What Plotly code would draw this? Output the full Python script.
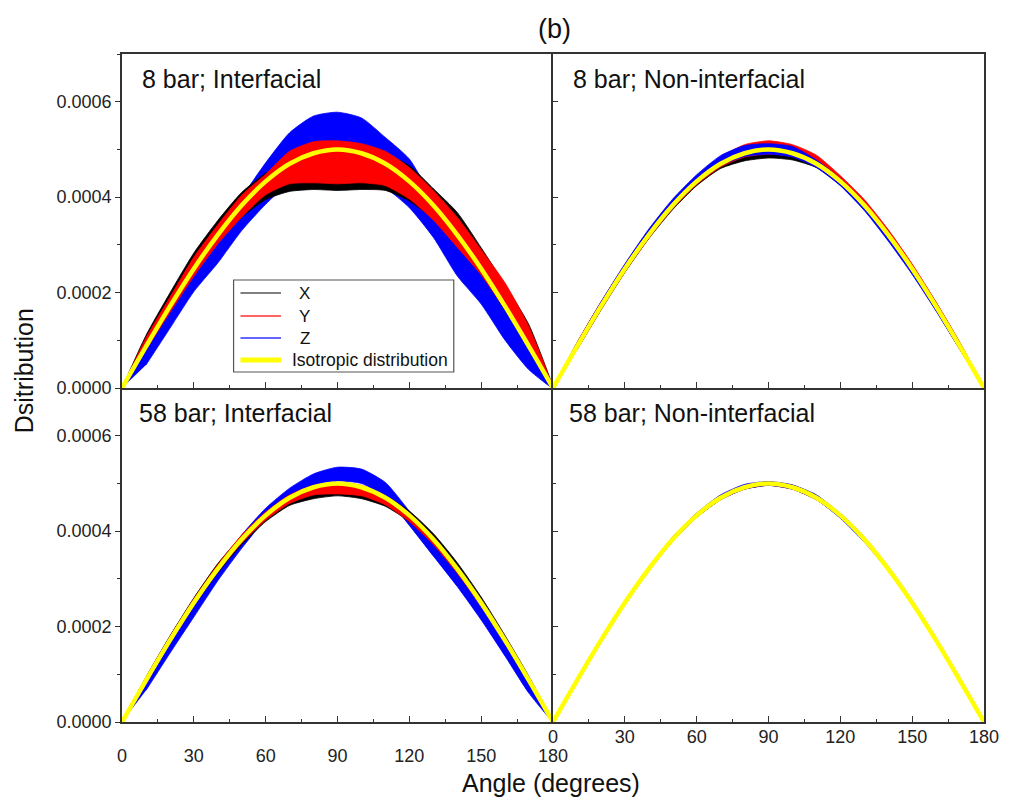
import plotly.graph_objects as go
from plotly.subplots import make_subplots

# ---------------- data ----------------
angles = [0, 10, 20, 30, 40, 50, 60, 70, 80, 90, 100, 110, 120, 130, 140, 150, 160, 170, 180]

iso = [0, 0.0000868, 0.000171, 0.00025, 0.000321, 0.000383, 0.000433, 0.00047, 0.000492, 0.0005,
       0.000492, 0.00047, 0.000433, 0.000383, 0.000321, 0.00025, 0.000171, 0.0000868, 0]

# Panel 1: 8 bar; Interfacial  (noise envelopes: low / high)
p1_x_lo = [0, 0.000082, 0.000162, 0.000238, 0.000305, 0.000358, 0.000395, 0.000412, 0.000416, 0.000414,
           0.000416, 0.000414, 0.000392, 0.000354, 0.000298, 0.000241, 0.000164, 0.000086, 0]
p1_x_hi = [0, 0.00011, 0.000199, 0.000283, 0.000351, 0.00041, 0.00045, 0.00048, 0.000496, 0.0005,
           0.000496, 0.00049, 0.000466, 0.000418, 0.000368, 0.000294, 0.000216, 0.000132, 0]
p1_y_lo = [0, 0.00008, 0.000158, 0.000234, 0.000302, 0.000358, 0.000405, 0.000428, 0.00043, 0.000428,
           0.00043, 0.000424, 0.000396, 0.000352, 0.000295, 0.000237, 0.000165, 0.000092, 0]
p1_y_hi = [0, 0.000105, 0.00019, 0.000274, 0.000342, 0.000404, 0.000448, 0.000496, 0.000516, 0.000518,
           0.000512, 0.000496, 0.000462, 0.000414, 0.000358, 0.00029, 0.00022, 0.000128, 0]
p1_z_lo = [0, 0.000048, 0.000125, 0.000202, 0.000262, 0.00033, 0.000385, 0.00043, 0.00045, 0.000455,
           0.00045, 0.00042, 0.000378, 0.000316, 0.000235, 0.000176, 0.0001, 0.000038, 0]
p1_z_hi = [0, 0.000092, 0.000176, 0.000258, 0.000328, 0.0004, 0.000472, 0.000535, 0.00057, 0.000578,
           0.000566, 0.000525, 0.00048, 0.000395, 0.000318, 0.000248, 0.000172, 0.000088, 0]

# Panel 2: 8 bar; Non-interfacial
p2_x_lo = [0, 0.00008, 0.000163, 0.000242, 0.000313, 0.000374, 0.000424, 0.00046, 0.000476, 0.000482,
           0.000478, 0.000462, 0.000425, 0.000375, 0.000313, 0.000242, 0.000163, 0.00008, 0]
p2_x_hi = [0, 0.000093, 0.000178, 0.000257, 0.000328, 0.00039, 0.00044, 0.000478, 0.000496, 0.000502,
           0.000498, 0.000478, 0.000442, 0.000392, 0.00033, 0.000258, 0.000179, 0.000094, 0]
p2_y_lo = [0, 0.00008, 0.000164, 0.000243, 0.000314, 0.000376, 0.000426, 0.000463, 0.000484, 0.00049,
           0.000485, 0.000463, 0.000426, 0.000376, 0.000314, 0.000243, 0.000164, 0.00008, 0]
p2_y_hi = [0, 0.000095, 0.00018, 0.000258, 0.00033, 0.000392, 0.000443, 0.000484, 0.00051, 0.000518,
           0.00051, 0.000488, 0.000445, 0.000395, 0.000332, 0.00026, 0.00018, 0.000095, 0]
p2_z_lo = [0, 0.000082, 0.000166, 0.000245, 0.000316, 0.000378, 0.000428, 0.000466, 0.000485, 0.00049,
           0.000484, 0.000462, 0.000424, 0.000372, 0.000308, 0.000238, 0.000161, 0.00008, 0]
p2_z_hi = [0, 0.000094, 0.00018, 0.00026, 0.000333, 0.000396, 0.000447, 0.000487, 0.000508, 0.000512,
           0.000506, 0.000478, 0.000438, 0.000388, 0.000325, 0.000254, 0.000176, 0.00009, 0]

# Panel 3: 58 bar; Interfacial
p3_x_lo = [0, 0.000081, 0.000165, 0.000244, 0.000313, 0.000372, 0.00042, 0.000454, 0.000468, 0.000474,
           0.000468, 0.000452, 0.00042, 0.000374, 0.000314, 0.000245, 0.000166, 0.000083, 0]
p3_x_hi = [0, 0.000094, 0.00018, 0.00026, 0.000332, 0.00039, 0.000438, 0.000472, 0.00049, 0.000496,
           0.00049, 0.000473, 0.000442, 0.000395, 0.000334, 0.000262, 0.000181, 0.000095, 0]
p3_y_lo = [0, 0.000082, 0.000166, 0.000245, 0.000315, 0.000375, 0.000423, 0.000458, 0.000476, 0.000478,
           0.000474, 0.000455, 0.00042, 0.000372, 0.000312, 0.000243, 0.000165, 0.000082, 0]
p3_y_hi = [0, 0.000093, 0.000178, 0.000258, 0.00033, 0.000392, 0.00044, 0.000476, 0.000496, 0.000502,
           0.000496, 0.000474, 0.000438, 0.000388, 0.000326, 0.000256, 0.000177, 0.000092, 0]
p3_z_lo = [0, 0.000066, 0.000144, 0.00022, 0.000296, 0.000364, 0.000425, 0.000468, 0.000495, 0.000505,
           0.0005, 0.000472, 0.000412, 0.000348, 0.000284, 0.000214, 0.000138, 0.00006, 0]
p3_z_hi = [0, 0.000084, 0.000168, 0.000248, 0.000322, 0.000392, 0.000448, 0.00049, 0.00052, 0.000534,
           0.00053, 0.000502, 0.000442, 0.000378, 0.000314, 0.00024, 0.000162, 0.000082, 0]

# Panel 4: 58 bar; Non-interfacial
p4_x_lo = [0, 0.000083, 0.000167, 0.000246, 0.000317, 0.000379, 0.000429, 0.000466, 0.000488, 0.000496,
           0.000488, 0.000466, 0.000429, 0.000379, 0.000317, 0.000246, 0.000167, 0.000083, 0]
p4_x_hi = [0, 0.00009, 0.000175, 0.000254, 0.000325, 0.000387, 0.000437, 0.000474, 0.000496, 0.000503,
           0.000496, 0.000474, 0.000437, 0.000387, 0.000325, 0.000254, 0.000175, 0.00009, 0]
p4_y_lo = [0, 0.000083, 0.000167, 0.000246, 0.000317, 0.000379, 0.000429, 0.000466, 0.000488, 0.000496,
           0.000488, 0.000466, 0.000429, 0.000379, 0.000317, 0.000246, 0.000167, 0.000083, 0]
p4_y_hi = [0, 0.00009, 0.000175, 0.000254, 0.000325, 0.000387, 0.000437, 0.000474, 0.000496, 0.000503,
           0.000496, 0.000474, 0.000437, 0.000387, 0.000325, 0.000254, 0.000175, 0.00009, 0]
p4_z_lo = [0, 0.000083, 0.000167, 0.000246, 0.000317, 0.000379, 0.000429, 0.000466, 0.000488, 0.000496,
           0.000488, 0.000466, 0.000427, 0.000377, 0.000317, 0.000246, 0.000167, 0.000083, 0]
p4_z_hi = [0, 0.00009, 0.000175, 0.000254, 0.000325, 0.000388, 0.000438, 0.000476, 0.000498, 0.000504,
           0.000497, 0.000476, 0.000437, 0.000387, 0.000325, 0.000254, 0.000175, 0.00009, 0]

panel_titles = ["8 bar; Interfacial", "8 bar; Non-interfacial", "58 bar; Interfacial", "58 bar; Non-interfacial"]
series_names = ["X", "Y", "Z", "Isotropic distribution"]
x_ticks = [0, 30, 60, 90, 120, 150, 180]
y_ticks = [0, 0.0002, 0.0004, 0.0006]

# ---------------- figure ----------------
BLACK, RED, BLUE, YELLOW = "#000000", "#FF0000", "#0000FF", "#FFFF00"
FONT = "Liberation Sans, Arial, sans-serif"

fig = make_subplots(rows=2, cols=2, horizontal_spacing=0, vertical_spacing=0)


def band(lo, hi, color, row, col):
    xs = angles + angles[-2:0:-1]
    ys = hi + lo[-2:0:-1]
    fig.add_trace(go.Scatter(x=xs, y=ys, mode="lines", fill="toself", fillcolor=color,
                             line=dict(color=color, width=0.8, shape="spline", smoothing=0.6),
                             hoverinfo="skip", showlegend=False), row=row, col=col)


panels = [
    (1, 1, [(p1_z_lo, p1_z_hi, BLUE), (p1_x_lo, p1_x_hi, BLACK), (p1_y_lo, p1_y_hi, RED)]),
    (1, 2, [(p2_x_lo, p2_x_hi, BLACK), (p2_y_lo, p2_y_hi, RED), (p2_z_lo, p2_z_hi, BLUE)]),
    (2, 1, [(p3_z_lo, p3_z_hi, BLUE), (p3_x_lo, p3_x_hi, BLACK), (p3_y_lo, p3_y_hi, RED)]),
    (2, 2, [(p4_x_lo, p4_x_hi, BLACK), (p4_y_lo, p4_y_hi, RED), (p4_z_lo, p4_z_hi, BLUE)]),
]
for r, c, bands in panels:
    for lo, hi, col in bands:
        band(lo, hi, col, r, c)
    fig.add_trace(go.Scatter(x=angles, y=iso, mode="lines",
                             line=dict(color=YELLOW, width=4.5, shape="spline"),
                             hoverinfo="skip", showlegend=False), row=r, col=c)

AX = "#333333"
for r in (1, 2):
    for c in (1, 2):
        fig.update_xaxes(range=[0, 180], tickvals=x_ticks, ticks="inside", ticklen=6, tickwidth=1.3,
                         tickcolor=AX,
                         minor=dict(dtick=15, tick0=0, ticks="inside", ticklen=3, tickwidth=1.2,
                                    tickcolor=AX, showgrid=False),
                         showticklabels=(r == 2),
                         tickfont=dict(family=FONT, size=18, color="#222222"),
                         ticklabelstandoff=(17 if c == 1 else -2),
                         showline=True, linecolor=AX, linewidth=1.5, mirror=(r == 1),
                         showgrid=False, zeroline=False, row=r, col=c)
        fig.update_yaxes(range=[0, 0.0007], tickvals=y_ticks, tickformat=".4f",
                         ticks=("outside" if c == 1 else "inside"), ticklen=5, tickwidth=1.3,
                         tickcolor=AX,
                         minor=dict(dtick=0.0001, tick0=0, ticks=("outside" if c == 1 else "inside"),
                                    ticklen=3, tickwidth=1.2, tickcolor=AX, showgrid=False),
                         showticklabels=(c == 1),
                         tickfont=dict(family=FONT, size=18, color="#222222"),
                         showline=True, linecolor=AX, linewidth=1.5, mirror=(c == 2),
                         showgrid=False, zeroline=False, row=r, col=c)

L, R, T, B = 122, 16, 54, 76
W, H = 1011, 798
PW, PH = W - L - R, H - T - B


def px(xp):
    return (xp - L) / PW


def py(yp):
    return (H - B - yp) / PH


annotations = []
shapes = []
label_pos = [(140, 79), (577, 79), (137, 413), (573, 413)]
for txt, (xx, yy) in zip(panel_titles, label_pos):
    annotations.append(dict(text=txt, x=px(xx), y=py(yy), xref="paper", yref="paper",
                            xanchor="left", yanchor="middle", showarrow=False,
                            font=dict(family=FONT, size=25, color="#111111")))
annotations.append(dict(text="(b)", x=px(560), y=py(29), xref="paper", yref="paper",
                        xanchor="center", yanchor="middle", showarrow=False,
                        font=dict(family=FONT, size=27, color="#111111")))
annotations.append(dict(text="Angle (degrees)", x=px(556), y=py(783), xref="paper", yref="paper",
                        xanchor="center", yanchor="middle", showarrow=False,
                        font=dict(family=FONT, size=25, color="#111111")))
annotations.append(dict(text="Dsitribution", x=px(23), y=py(371), xref="paper", yref="paper",
                        xanchor="center", yanchor="middle", showarrow=False, textangle=-90,
                        font=dict(family=FONT, size=25, color="#111111")))

# legend (drawn as a boxed key inside the first panel)
shapes.append(dict(type="rect", xref="paper", yref="paper", x0=px(235), x1=px(458),
                   y0=py(372), y1=py(280), line=dict(color="#555555", width=1.2),
                   fillcolor="white", layer="above"))
legend_rows = [293, 316, 338, 360]
legend_cols = ["#555555", "#FF3030", "#3030FF", YELLOW]
legend_w = [1.3, 1.3, 1.3, 5]
for i, (name, yy) in enumerate(zip(series_names, legend_rows)):
    shapes.append(dict(type="line", xref="paper", yref="paper", x0=px(242), x1=px(283),
                       y0=py(yy), y1=py(yy), line=dict(color=legend_cols[i], width=legend_w[i]),
                       layer="above"))
    if i < 3:
        annotations.append(dict(text=name, x=px(307), y=py(yy), xref="paper", yref="paper",
                                xanchor="center", yanchor="middle", showarrow=False,
                                font=dict(family=FONT, size=17, color="#111111")))
    else:
        annotations.append(dict(text=name, x=px(292), y=py(yy), xref="paper", yref="paper",
                                xanchor="left", yanchor="middle", showarrow=False,
                                font=dict(family=FONT, size=17.5, color="#111111")))

fig.update_layout(
    width=W, height=H,
    margin=dict(l=L, r=R, t=T, b=B),
    paper_bgcolor="white", plot_bgcolor="white",
    annotations=annotations,
    shapes=shapes,
    showlegend=False,
)

fig.write_html("out.html")
